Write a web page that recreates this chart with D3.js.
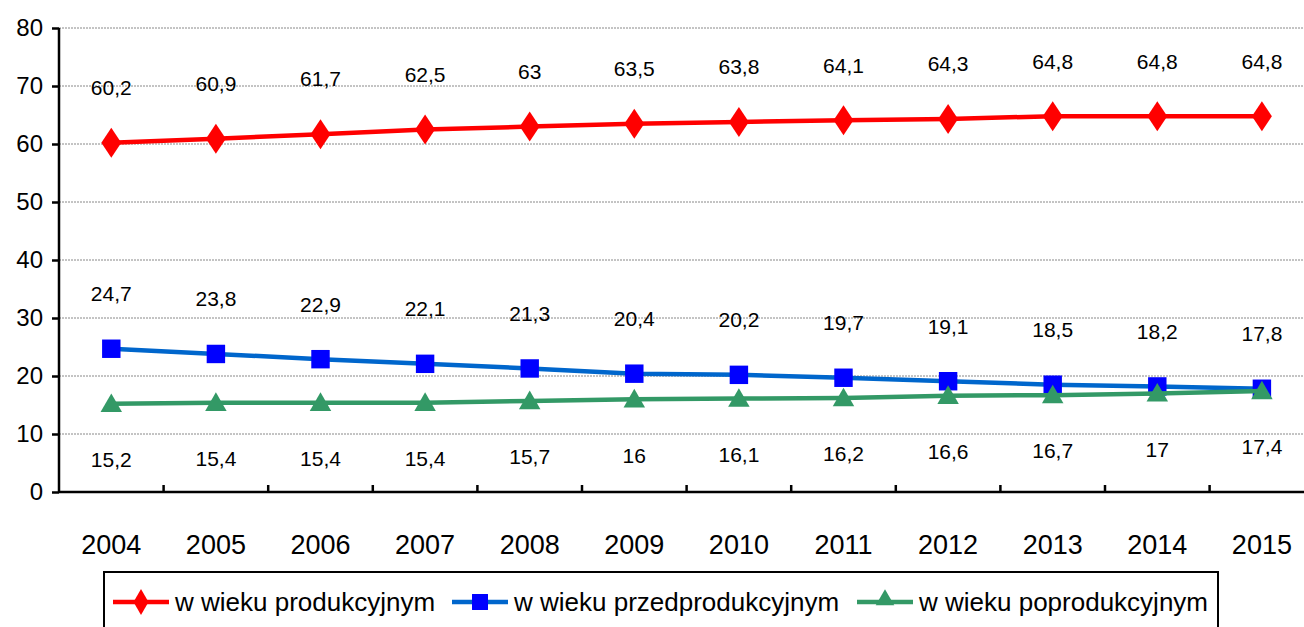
<!DOCTYPE html>
<html>
<head>
<meta charset="utf-8">
<script src="https://cdn.jsdelivr.net/npm/d3@7"></script>
<style>
  body { margin: 0; background: #fff; }
  svg { display: block; font-family: Arial, "Liberation Sans", sans-serif; }
</style>
</head>
<body>
<div></div>
<script>
var years = ["2004", "2005", "2006", "2007", "2008", "2009", "2010", "2011", "2012", "2013", "2014", "2015"];
var produkcyjny = [60.2, 60.9, 61.7, 62.5, 63, 63.5, 63.8, 64.1, 64.3, 64.8, 64.8, 64.8];
var przedprodukcyjny = [24.7, 23.8, 22.9, 22.1, 21.3, 20.4, 20.2, 19.7, 19.1, 18.5, 18.2, 17.8];
var poprodukcyjny = [15.2, 15.4, 15.4, 15.4, 15.7, 16, 16.1, 16.2, 16.6, 16.7, 17, 17.4];
var yTicks = [0, 10, 20, 30, 40, 50, 60, 70, 80];

var series = [
  { id: "prod", name: "w wieku produkcyjnym", values: produkcyjny, line: "#ff0000", marker: "#ff0000", symbol: d3.symbolDiamond, size: 260, labelDy: -55 },
  { id: "przed", name: "w wieku przedprodukcyjnym", values: przedprodukcyjny, line: "#0066cc", marker: "#0000ff", symbol: d3.symbolSquare, size: 340, labelDy: -55 },
  { id: "po", name: "w wieku poprodukcyjnym", values: poprodukcyjny, line: "#339966", marker: "#339966", symbol: d3.symbolTriangle, size: 200, labelDy: 56 }
];

var width = 1304;
var height = 627;
var margin = { top: 28, left: 59, bottom: 135 };
var plotW = 12 * 104.6;
var plotH = height - margin.top - margin.bottom;

var svg = d3.select("body").select("div")
  .append("svg")
  .attr("width", width)
  .attr("height", height);

var chartGroup = svg.append("g")
  .attr("transform", "translate(" + margin.left + "," + margin.top + ")");

var xScale = d3.scaleBand().domain(years).range([0, plotW]);
var yScale = d3.scaleLinear().domain([0, 80]).range([plotH, 0]);

function cx(i) { return xScale(years[i]) + xScale.bandwidth() / 2; }

// dotted grid
chartGroup.append("g")
  .selectAll("line")
  .data(yTicks.filter(function(t) { return t > 0; }))
  .enter()
  .append("line")
  .attr("x1", 0)
  .attr("x2", plotW)
  .attr("y1", function(d) { return yScale(d); })
  .attr("y2", function(d) { return yScale(d); })
  .attr("stroke", "#888")
  .attr("stroke-width", 1)
  .attr("stroke-dasharray", "2,1");

// y axis
var yAxis = d3.axisLeft(yScale).tickValues(yTicks).tickSize(7).tickPadding(9);
var yg = chartGroup.append("g").call(yAxis);
yg.select(".domain").attr("stroke", "#000").attr("stroke-width", 2.5).attr("d", "M0," + plotH + "V0");
yg.selectAll(".tick line").attr("stroke", "#000").attr("stroke-width", 2.5);
yg.selectAll(".tick text").style("font-size", "24px").attr("fill", "#000");

// x axis
var xg = chartGroup.append("g").attr("transform", "translate(0," + plotH + ")");
xg.append("line")
  .attr("x1", 0).attr("x2", plotW)
  .attr("stroke", "#000").attr("stroke-width", 2.5);
xg.selectAll(".xt")
  .data(years.slice(1))
  .enter()
  .append("line")
  .attr("class", "xt")
  .attr("x1", function(d) { return xScale(d); })
  .attr("x2", function(d) { return xScale(d); })
  .attr("y1", 0).attr("y2", -7)
  .attr("stroke", "#000").attr("stroke-width", 2.5);
xg.selectAll(".xl")
  .data(years)
  .enter()
  .append("text")
  .attr("class", "xl")
  .attr("x", function(d) { return xScale(d) + xScale.bandwidth() / 2; })
  .attr("y", 62)
  .attr("text-anchor", "middle")
  .style("font-size", "27px")
  .text(function(d) { return d; });

var line = d3.line()
  .x(function(d, i) { return cx(i); })
  .y(function(d) { return yScale(d); });

var fmt = function(v) { return String(v).replace(".", ","); };

series.forEach(function(s) {
  chartGroup.append("path")
    .attr("d", line(s.values))
    .attr("fill", "none")
    .attr("stroke", s.line)
    .attr("stroke-width", 4.5);

  chartGroup.append("g")
    .selectAll("path")
    .data(s.values)
    .enter()
    .append("path")
    .attr("d", d3.symbol().type(s.symbol).size(s.size))
    .attr("transform", function(d, i) {
      var dy = s.symbol === d3.symbolTriangle ? 2 : 0;
      return "translate(" + cx(i) + "," + (yScale(d) + dy) + ")" + (s.symbol === d3.symbolDiamond ? " scale(1.15,1)" : "");
    })
    .attr("fill", s.marker);

  chartGroup.append("g")
    .selectAll("text")
    .data(s.values)
    .enter()
    .append("text")
    .attr("x", function(d, i) { return cx(i); })
    .attr("y", function(d) { return yScale(d) + s.labelDy; })
    .attr("dy", "0.35em")
    .attr("text-anchor", "middle")
    .style("font-size", "21px")
    .text(function(d) { return fmt(d); });
});

// legend
var legend = svg.append("g");
legend.append("rect")
  .attr("x", 104).attr("y", 572)
  .attr("width", 1114).attr("height", 70)
  .attr("fill", "#fff")
  .attr("stroke", "#000")
  .attr("stroke-width", 2);

var legendX = [113, 452, 857];
series.forEach(function(s, i) {
  var g = legend.append("g").attr("transform", "translate(" + legendX[i] + ",602)");
  g.append("line").attr("x1", 0).attr("x2", 56).attr("stroke", s.line).attr("stroke-width", 4.5);
  g.append("path")
    .attr("d", d3.symbol().type(s.symbol).size(s.size * 0.75))
    .attr("transform", "translate(28," + (s.symbol === d3.symbolTriangle ? -2 : 0) + ")")
    .attr("fill", s.marker);
  g.append("text")
    .attr("x", 62)
    .attr("dy", "0.35em")
    .style("font-size", "26px")
    .text(s.name);
});
</script>
</body>
</html>
